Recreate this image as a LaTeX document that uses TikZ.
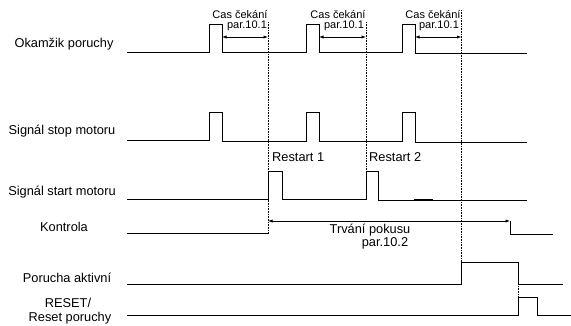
\documentclass[tikz,border=0pt]{standalone}
\usepackage{fontspec}
\setmainfont{Liberation Sans}
\usetikzlibrary{arrows.meta}
\tikzset{
  sig/.style={line width=1pt, line join=miter},
  guide/.style={densely dotted, line width=0.6pt},
  dim/.style={line width=0.7pt, {Latex[length=4.5pt,width=3.2pt]}-{Latex[length=4.5pt,width=3.2pt]}},
  lbl/.style={inner sep=0pt, font=\fontsize{12.8}{14}\selectfont},
  small/.style={inner sep=0pt, font=\fontsize{11}{12}\selectfont}
}
\begin{document}
\begin{tikzpicture}[x=1pt,y=-1pt]
\useasboundingbox (0,0) rectangle (571,325);
% labels
\node[lbl] (l1) at (64,44) {Okamžik poruchy};
\node[lbl] (l2) at (62,131) {Signál stop motoru};
\node[lbl] (l3) at (62,192) {Signál start motoru};
\node[lbl] (l4) at (64,227) {Kontrola};
\node[lbl] (l5) at (67,278) {Porucha aktivní};
\node[lbl] (l6) at (68,303) {RESET/};
\node[lbl] (l7) at (70,318) {Reset poruchy};
% fault moment
\draw[sig] (127,52)--(209,52)--(209,24)--(222,24)--(222,52.5)--(306,52.5)--(306,24)--(319,24)--(319,52.5)--(402,52.5)--(402,24)--(415,24)--(415,53.5)--(527,53.5);
% stop
\draw[sig] (127,140.7)--(209,140.7)--(209,112)--(222,112)--(222,141.7)--(306,141.7)--(306,112)--(319,112)--(319,141.7)--(402,141.7)--(402,112)--(415,112)--(415,142.7)--(527,142.7);
% start
\draw[sig] (127,199.5)--(268,199.5)--(268,171)--(282,171)--(282,199.5)--(366,199.5)--(366,171)--(378,171)--(378,200)--(527,200);
\draw[line width=1.8pt] (414,200)--(433,200);
% kontrola
\draw[sig] (127,233.5)--(268,233.5);
\draw[sig] (510,221)--(510,234)--(553,234);
\draw[dim] (268,221)--(510,221);
% porucha aktivni
\draw[sig] (127,284)--(461.5,284)--(461.5,262)--(518,262)--(518,284)--(563,284);
% reset
\draw[sig] (127,315.5)--(518,315.5)--(518,297)--(537,297)--(537,315.5)--(571,315.5);
% guides
\draw[guide] (268,22)--(268,233.5);
\draw[guide] (366,22)--(366,199.5);
\draw[guide] (461.5,10)--(461.5,262);
\draw[guide] (518,262)--(518,297);
% waiting-time arrows
\draw[dim] (222,37)--(268,37);
\draw[dim] (319,37)--(366,37);
\draw[dim] (415,37)--(461.5,37);
\node[small] (c1) at (240,15) {Cas čekání};
\node[small] (c2) at (338,15) {Cas čekání};
\node[small] (c3) at (433,15) {Cas čekání};
\node[small] (p1) at (247,26) {par.10.1};
\node[small] (p2) at (344,26) {par.10.1};
\node[small] (p3) at (439,26) {par.10.1};
\node[lbl,anchor=west] (r1) at (272,157) {Restart 1};
\node[lbl,anchor=west] (r2) at (369,157) {Restart 2};
\node[lbl] (t1) at (370,230) {Trvání pokusu};
\node[lbl] (t2) at (385,243) {par.10.2};
\end{tikzpicture}
\end{document}
